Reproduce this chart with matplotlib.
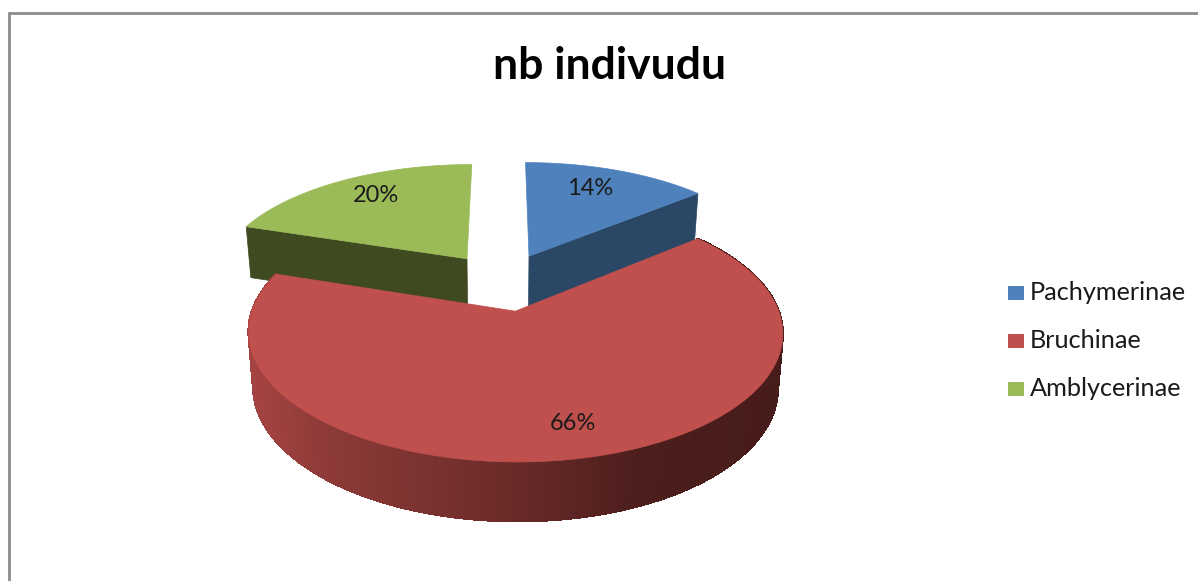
import numpy as np
import matplotlib.pyplot as plt
from matplotlib.collections import LineCollection
from matplotlib.patches import Polygon, Rectangle

title = "nb indivudu"
categories = ["Pachymerinae", "Bruchinae", "Amblycerinae"]
shares = [14, 66, 20]
colors = ["#4f81bd", "#c0504d", "#9bbb59"]
cut_colors = ["#2a4766", "#7a2f2d", "#3f4a21"]

# fake 3d pie parameters, in pixels of the 1198x581 image
CX, CY = 503, 281.5
R, TILT = 253, 116
PERSP = 0.16
DEPTH = 53
BOTTOM_SHRINK = 0.982
EXPLODE = 0.25
LABEL_NUDGE = [(-8, -1), (13, 5), (6, -2)]


def project(u, v, z=0.0):
    """u to the right, v towards the viewer, z=0 top face, z=1 bottom face."""
    s = 1.0 / (1.0 - PERSP * v)
    shrink = 1.0 - (1.0 - BOTTOM_SHRINK) * z
    return CX + R * s * u * shrink, CY + TILT * s * v + DEPTH * np.sqrt(s) * z


def wedge_uv(a0, a1, n=120):
    """Outline of a wedge, angles in degrees clockwise from the back."""
    mid = np.radians((a0 + a1) / 2)
    ou, ov = EXPLODE * np.sin(mid), -EXPLODE * np.cos(mid)
    t = np.radians(np.linspace(a0, a1, n))
    return ou, ov, ou + np.sin(t), ov - np.cos(t)


def cut_face(ax, ou, ov, a, color):
    t = np.radians(a)
    eu, ev = ou + np.sin(t), ov - np.cos(t)
    pts = [project(ou, ov), project(eu, ev), project(eu, ev, 1), project(ou, ov, 1)]
    ax.add_patch(Polygon(pts, closed=True, fc=color, ec=color, lw=0.5))


def top_face(ax, ou, ov, us, vs, color):
    x, y = project(np.r_[ou, us], np.r_[ov, vs])
    ax.add_patch(Polygon(np.c_[x, y], closed=True, fc=color, ec=color, lw=0.5))


def red_shade(x):
    # side of the big slice goes dark towards the right
    stops = [247, 330, 450, 560, 640, 780]
    r = np.interp(x, stops, [165, 140, 118, 95, 76, 72])
    g = np.interp(x, stops, [68, 58, 48, 38, 30, 28])
    b = np.interp(x, stops, [66, 56, 46, 36, 28, 26])
    return (r / 255, g / 255, b / 255)


fig = plt.figure(figsize=(11.98, 5.81), dpi=100)
ax = fig.add_axes([0, 0, 1, 1])
ax.set_xlim(0, 1198)
ax.set_ylim(581, 0)
ax.axis("off")
plt.rcParams["font.family"] = ["Lato", "DejaVu Sans"]

# chart frame
ax.plot([8.5, 8.5, 1198], [581, 12.5, 12.5], color="#8c8c8c", lw=2.0,
        solid_joinstyle="miter")

edges = np.r_[0, np.cumsum(shares)] * 3.6
blue = wedge_uv(edges[0], edges[1])
red = wedge_uv(edges[1], edges[2], n=500)
green = wedge_uv(edges[2], edges[3])

cut_face(ax, blue[0], blue[1], edges[1], cut_colors[0])
cut_face(ax, green[0], green[1], edges[2], cut_colors[2])
top_face(ax, *blue, colors[0])
top_face(ax, *green, colors[2])

# rim of the big slice, strip by strip
us, vs = red[2], red[3]
bx, by = project(us, vs, 1)
segs, seg_colors = [], []
for i in range(len(us) - 1):
    x0, y0 = project(us[i], vs[i])
    x1, y1 = project(us[i + 1], vs[i + 1])
    c = red_shade((x0 + x1) / 2)
    ax.add_patch(Polygon([(x0, y0), (x1, y1), (bx[i + 1], by[i + 1]), (bx[i], by[i])],
                         closed=True, fc=c, ec=c, lw=1.0, antialiased=False))
    segs.append([(bx[i], by[i]), (bx[i + 1], by[i + 1])])
    seg_colors.append(c)
ax.add_collection(LineCollection(segs, colors=seg_colors, linewidths=0.8, zorder=1))
top_face(ax, *red, colors[1])

# percentage labels on the top faces
mids = (edges[:-1] + edges[1:]) / 2
for share, m, (nx, ny) in zip(shares, np.radians(mids), LABEL_NUDGE):
    lx, ly = project((EXPLODE + 0.76) * np.sin(m), -(EXPLODE + 0.76) * np.cos(m))
    ax.text(lx + nx, ly + ny, f"{share}%", ha="center", va="center", fontsize=17,
            color="#1a1a1a")

ax.text(610, 66, title, ha="center", va="center", fontsize=32, fontweight="bold",
        color="black")

# legend
for name, color, y in zip(categories, colors, [293, 341, 389]):
    ax.add_patch(Rectangle((1008, y - 7), 16, 14, fc=color, ec="none"))
    ax.text(1030, y, name, ha="left", va="center", fontsize=18.2, color="#1a1a1a")

fig.savefig("out.png", dpi=100)
